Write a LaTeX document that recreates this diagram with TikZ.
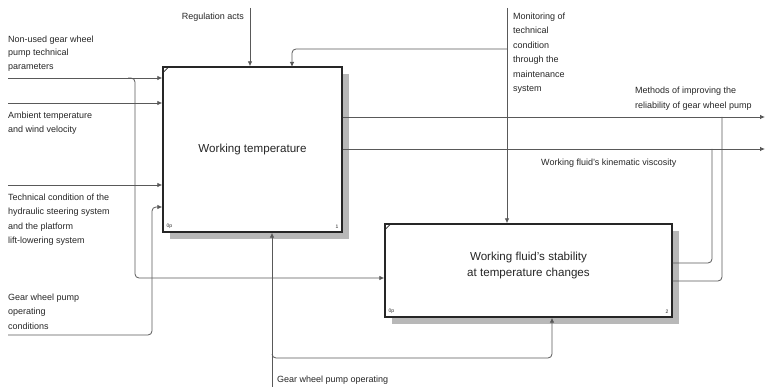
\documentclass[tikz,border=0pt]{standalone}
\usepackage{fontspec}
\setmainfont{Liberation Sans}
\usetikzlibrary{arrows.meta,calc}
\begin{document}
\begin{tikzpicture}[x=1pt,y=-1pt,
  box/.style={draw=black!85, line width=1.4pt, fill=white, inner sep=0pt},
  title/.style={align=center, inner sep=0pt, font=\fontsize{11.6}{17}\selectfont, text=black!85},
  flow/.style={draw=black!65, line width=0.8pt, rounded corners=4pt},
  arr/.style={flow, -{Latex[length=5pt,width=4.5pt]}},
  lbl/.style={font=\fontsize{9}{14.5}\selectfont, align=left, inner sep=0pt, anchor=north west, text=black!85},
  tiny/.style={font=\fontsize{5}{6}\selectfont, inner sep=0pt, text=black!85},
]
\useasboundingbox (0,0) rectangle (765,387);

% shadows
\fill[black!28] (170,74) rectangle (349,239);
\fill[black!28] (392,231) rectangle (679,324);

% boxes
\node[box, minimum width=179pt, minimum height=165pt] (b1) at (252.5,149.5) {};
\node[title] (t1) at (b1.center) {Working temperature};
\node[box, minimum width=287pt, minimum height=93pt] (b2) at (528.5,270.5) {};
\node[title] (t2) at ($(b2.center)+(0,-5)$) {Working fluid's stability\\at temperature changes};

\draw[black!85, line width=0.6pt] ($(b1.north west)+(1,6)$) -- ($(b1.north west)+(6,1)$);
\draw[black!85, line width=0.6pt] ($(b2.north west)+(1,6)$) -- ($(b2.north west)+(6,1)$);
\node[tiny, anchor=south west] (z1) at ($(b1.south west)+(4,-4)$) {0p};
\node[tiny, anchor=south east] (n1) at ($(b1.south east)+(-4,-4)$) {1};
\node[tiny, anchor=south west] (z2) at ($(b2.south west)+(4,-4)$) {0p};
\node[tiny, anchor=south east] (n2) at ($(b2.south east)+(-4,-4)$) {2};

% coordinates
\coordinate (reg) at (250,8);
\coordinate (mon) at (507,8);
\coordinate (fb) at (507,49);
\coordinate (fbin) at (292,67);
\coordinate (i1) at (8,78);
\coordinate (i2) at (8,103);
\coordinate (i3) at (8,185);
\coordinate (i4) at (8,335);
\coordinate (j1a) at (128,78);
\coordinate (j1b) at (135,278);
\coordinate (j4b) at (152,207);
\coordinate (m) at (272,387);
\coordinate (mj) at (272,358);
\coordinate (mb) at (552,358);
\coordinate (o1) at (765,117);
\coordinate (o2) at (765,149);
\coordinate (q1) at (712,263);
\coordinate (q2) at (722,281);

% controls
\draw[arr] (reg) -- (reg |- b1.north);
\draw[arr] (mon) -- (mon |- b2.north);
\draw[arr] (fb) -| (fbin);

% inputs
\draw[arr] (i1) -- (i1 -| b1.west);
\draw[arr] (i2) -- (i2 -| b1.west);
\draw[arr] (i3) -- (i3 -| b1.west);
\draw[arr] (i4) -| (j4b) -- (j4b -| b1.west);
\draw[arr] (j1a) -| (j1b) -- (j1b -| b2.west);

% mechanisms
\draw[arr] (m) -- (m |- b1.south);
\draw[arr] ($(mj)+(0,-4)$) |- (mb) -- (mb |- b2.south);

% outputs
\draw[arr] (o1 -| b1.east) -- (o1);
\draw[arr] (o2 -| b1.east) -- (o2);
\draw[flow] (q1 -| b2.east) -- (q1) -- (q1 |- o2);
\draw[flow] (q2 -| b2.east) -- (q2) -- (q2 |- o1);

% labels
\node[lbl, anchor=base east] (lreg) at (244,20) {Regulation acts};
\node[lbl] (lmon) at (513,12.4) {Monitoring of\\technical\\condition\\through the\\maintenance\\system};
\node[lbl, font=\fontsize{9}{13.8}\selectfont] (li1) at (8,35.4) {Non-used gear wheel\\pump technical\\parameters};
\node[lbl, font=\fontsize{9}{14}\selectfont] (li2) at (8,111.4) {Ambient temperature\\and wind velocity};
\node[lbl] (li3) at (8,193.4) {Technical condition of the\\hydraulic steering system\\and the platform\\lift-lowering system};
\node[lbl] (li4) at (8,293.4) {Gear wheel pump\\operating\\conditions};
\node[lbl, font=\fontsize{9}{15}\selectfont] (lo1) at (635,86.4) {Methods of improving the\\reliability of gear wheel pump};
\node[lbl, anchor=base west] (lo2) at (541,166) {Working fluid's kinematic viscosity};
\node[lbl, anchor=base west] (lm) at (277,382) {Gear wheel pump operating};
\end{tikzpicture}
\end{document}
